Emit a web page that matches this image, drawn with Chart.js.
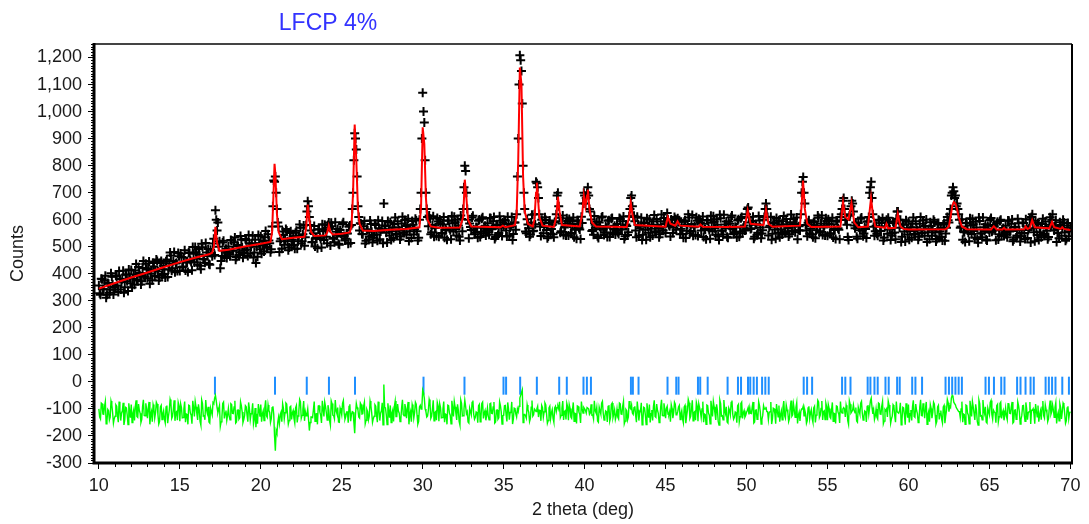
<!DOCTYPE html>
<html>
<head>
<meta charset="utf-8">
<script src="https://cdn.jsdelivr.net/npm/chart.js@4.4.1/dist/chart.umd.min.js"></script>
<style>
  html, body { margin: 0; padding: 0; background: #fff; }
  #wrap { width: 1089px; height: 524px; position: relative; }
</style>
</head>
<body>
<div id="wrap"><canvas id="rietveldChart"></canvas></div>
<script>
// Scan: 2 theta from 10 to 70 deg, read at 0.1 steps plus the half steps between
const scanStart = 10;
const scanStep = 0.1;
const halfStart = 10.05;

// Observed counts at 10.0, 10.1, ... one row per degree
const obsCounts = [
  357,322,380,343,393,322,363,342,389,323, // 10
  351,390,333,381,370,411,350,396,336,387, // 11
  414,382,359,436,375,403,360,421,390,437, // 12
  383,445,400,376,427,413,447,375,440,395, // 13
  430,386,453,416,479,411,447,406,441,477, // 14
  410,462,427,487,443,407,477,444,499,442, // 15
  480,433,471,417,498,455,514,466,436,489, // 16
  465,530,635,560,500,420,466,522,483,458, // 17
  501,465,523,485,534,462,502,480,526,459, // 18
  486,524,466,513,501,541,479,440,463,513, // 19
  539,506,482,558,496,523,480,575,745,760, // 20
  640,575,520,493,543,527,560,487,551,505, // 21
  539,493,559,520,582,512,546,504,580,668, // 22
  610,560,518,577,532,494,564,529,583,525, // 23
  562,513,590,505,576,532,591,541,511,562, // 24
  538,591,523,550,511,579,580,700,920,860, // 25
  650,560,585,546,595,522,561,538,584,516, // 26
  543,580,522,568,556,595,660,577,516,565, // 27
  591,557,532,608,545,571,527,586,553,599, // 28
  544,604,557,532,581,565,597,523,600,700, // 29
  1070,960,700,610,616,546,580,537,571,606, // 30
  537,587,551,610,564,526,596,561,614,556, // 31
  591,542,579,523,603,640,800,700,600,586, // 32
  562,615,546,573,533,601,555,609,569,542, // 33
  587,544,605,567,610,536,580,551,596,540, // 34
  575,597,538,584,571,610,547,590,620,900, // 35
  1208,1150,800,640,550,582,537,590,557,620, // 36
  740,720,620,540,589,573,599,531,588,548, // 37
  581,535,594,690,650,552,586,543,577,605, // 38
  542,586,549,608,568,530,593,564,611,660, // 39
  690,680,720,640,601,562,614,570,539,590, // 40
  565,612,543,576,536,598,552,606,566,545, // 41
  584,547,603,564,612,539,577,554,640,690, // 42
  610,594,535,581,568,607,544,588,526,575, // 43
  601,567,542,617,554,580,535,594,561,606, // 44
  551,625,580,538,587,571,603,600,592,546, // 45
  579,533,598,559,620,550,584,541,575,609, // 46
  540,600,560,612,566,528,597,562,615,557, // 47
  593,544,581,525,605,560,618,568,537,592, // 48
  568,616,547,574,534,602,556,610,570,560, // 49
  620,645,590,568,611,537,581,552,597,531, // 50
  561,610,660,610,572,611,548,586,530,579, // 51
  598,564,545,614,551,583,538,591,558,603, // 52
  554,608,561,560,700,758,660,560,589,549, // 53
  581,535,594,561,616,552,586,543,577,605, // 54
  541,585,548,607,567,529,592,563,610,640, // 55
  680,600,581,525,620,670,630,568,537,588, // 56
  561,608,539,572,532,594,700,740,620,541, // 57
  578,541,597,558,606,533,590,548,593,525, // 58
  550,587,528,630,600,600,537,581,519,568, // 59
  592,558,533,608,545,571,526,585,552,597, // 60
  541,601,554,528,577,561,593,519,582,536, // 61
  569,523,588,549,610,590,640,700,705,690, // 62
  660,620,570,602,556,518,587,552,605,547, // 63
  583,534,571,515,595,550,608,558,527,578, // 64
  553,606,560,575,524,592,546,600,560,540, // 65
  578,535,596,558,601,527,571,542,587,519, // 66
  551,588,529,575,562,601,610,590,520,569, // 67
  588,554,535,604,541,573,528,581,575,620, // 68
  560,598,551,531,580,570,590,522,579,539, // 69
  570                                       // 70
];

// Observed counts at 10.05, 10.15, ... 69.95
const obsHalfCounts = [
  328,382,343,374,311,366,330,402,361,341, // 10
  394,357,410,342,380,330,397,372,416,365, // 11
  349,397,412,377,425,393,372,447,390,416, // 12
  420,363,413,440,392,453,408,386,447,417, // 13
  399,446,388,438,468,420,481,438,410,465, // 14
  475,425,460,412,442,479,451,413,474,499, // 15
  456,492,430,511,453,441,479,492,433,477, // 16
  512,469,600,590,520,447,516,463,493,478, // 17
  472,525,486,516,452,506,469,540,498,477, // 18
  529,491,543,474,511,460,526,500,543,491, // 19
  474,521,535,499,546,513,491,650,740,700, // 20
  590,481,530,556,507,566,520,497,557,526, // 21
  507,552,493,541,570,520,579,535,630,650, // 22
  580,517,550,501,530,565,537,497,557,581, // 23
  537,580,570,589,530,517,555,566,507,549, // 24
  584,540,530,549,574,514,640,820,900,760, // 25
  610,587,547,576,512,565,527,597,555,533, // 26
  585,546,598,528,565,513,579,552,595,542, // 27
  525,571,584,548,594,560,538,611,552,577, // 28
  580,521,570,595,545,604,557,533,640,900, // 29
  1000,820,640,576,604,554,613,569,540,593, // 30
  601,549,582,533,561,597,568,528,587,611, // 31
  566,600,537,616,557,720,780,640,531,573, // 32
  608,564,553,570,596,536,604,549,578,561, // 33
  554,606,565,594,529,582,543,613,570,590, // 34
  599,560,611,541,577,525,590,563,760,1100, // 35
  1190,1030,700,556,602,568,545,618,559,583, // 36
  735,680,575,600,550,609,562,538,597,566, // 37
  546,591,620,700,607,557,616,571,542,595, // 38
  603,551,584,535,563,598,569,529,588,700, // 39
  660,700,690,630,558,544,581,592,532,574, // 40
  608,564,553,570,596,536,604,549,578,561, // 41
  554,606,565,594,529,582,543,613,680,650, // 42
  615,560,611,541,577,525,590,563,605,552, // 43
  535,581,594,557,603,569,546,619,560,584, // 44
  587,600,576,601,551,610,563,605,598,567, // 45
  547,592,532,580,608,558,617,572,543,596, // 46
  604,590,585,536,564,599,570,530,589,613, // 47
  568,602,539,618,559,545,582,593,533,585, // 48
  609,565,554,571,597,537,605,550,579,562, // 49
  640,610,566,595,530,583,544,614,571,549, // 50
  600,640,640,542,578,526,591,564,606,553, // 51
  535,581,594,557,603,569,546,619,560,584, // 52
  587,528,576,620,740,700,580,539,598,567, // 53
  546,591,531,579,607,557,616,571,542,595, // 54
  602,550,583,534,562,597,568,528,620,670, // 55
  640,599,536,615,650,660,579,590,530,572, // 56
  604,560,549,566,592,610,720,680,574,557, // 57
  548,600,559,588,523,576,600,607,564,542, // 58
  592,553,604,630,570,518,583,556,598,545, // 59
  526,572,585,548,594,560,537,610,551,575, // 60
  577,518,566,591,541,600,553,529,588,557, // 61
  537,582,522,570,598,620,690,720,680,650, // 62
  640,600,575,526,554,589,560,520,579,603, // 63
  558,592,529,608,549,535,572,583,523,565, // 64
  599,555,580,561,587,527,595,540,569,552, // 65
  545,597,556,585,520,573,534,604,561,539, // 66
  590,551,602,532,568,516,620,554,596,543, // 67
  525,571,584,547,593,559,536,609,600,574, // 68
  577,518,566,591,541,600,553,529,588,557  // 69
];

// Difference curve (obs - calc, shifted down) at 10.0, 10.1, ...
const diffCounts = [
  -100,-137,-81,-120,-72,-145,-107,-130,-85,-153, // 10
  -127,-90,-149,-103,-116,-77,-140,-96,-158,-109, // 11
  -84,-118,-143,-68,-131,-105,-150,-91,-124,-79,  // 12
  -134,-74,-121,-147,-98,-114,-82,-156,-93,-139,  // 13
  -106,-152,-87,-126,-65,-135,-101,-144,-110,-76, // 14
  -145,-95,-132,-73,-119,-157,-88,-123,-70,-128,  // 15
  -92,-141,-104,-160,-80,-125,-67,-117,-148,-97,  // 16
  -122,-80,-50,-95,-102,-165,-129,-75,-115,-142,  // 17
  -98,-140,-84,-117,-70,-148,-104,-133,-88,-150,  // 18
  -125,-92,-147,-100,-118,-79,-138,-168,-155,-106, // 19
  -84,-118,-143,-68,-131,-105,-150,-95,-120,-255, // 20
  -190,-130,-121,-147,-98,-114,-82,-156,-93,-139, // 21
  -106,-152,-87,-126,-65,-135,-101,-144,-125,-100, // 22
  -180,-130,-132,-73,-119,-157,-88,-123,-70,-128, // 23
  -92,-141,-104,-160,-80,-125,-67,-117,-148,-97,  // 24
  -122,-69,-138,-111,-151,-83,-120,-112,-190,-80, // 25
  -103,-134,-84,-118,-75,-142,-110,-127,-88,-150, // 26
  -127,-90,-149,-103,-116,-77,-10,-96,-158,-109,  // 27
  -87,-115,-146,-71,-128,-108,-147,-94,-121,-82,  // 28
  -134,-74,-121,-147,-98,-114,-82,-156,-93,-100,  // 29
  -30,-60,-110,-126,-65,-135,-101,-144,-110,-76,  // 30
  -145,-95,-132,-73,-119,-157,-88,-123,-70,-128,  // 31
  -92,-141,-104,-160,-80,-125,-67,-117,-148,-97,  // 32
  -122,-69,-138,-111,-151,-83,-129,-75,-115,-142, // 33
  -97,-140,-79,-117,-74,-148,-104,-133,-88,-156,  // 34
  -124,-87,-146,-100,-113,-74,-137,-99,-130,-110, // 35
  -60,-40,-150,-120,-134,-102,-147,-94,-127,-100, // 36
  -110,-90,-105,-144,-95,-111,-85,-153,-96,-136,  // 37
  -103,-149,-90,-95,-100,-132,-98,-141,-107,-79,  // 38
  -142,-98,-135,-76,-116,-154,-91,-120,-73,-115,  // 39
  -100,-115,-95,-120,-83,-122,-70,-114,-145,-94,  // 40
  -119,-72,-141,-108,-148,-86,-132,-78,-118,-139, // 41
  -100,-137,-81,-120,-72,-145,-107,-130,-95,-85,  // 42
  -120,-90,-149,-103,-116,-77,-140,-96,-158,-109, // 43
  -84,-118,-143,-68,-131,-105,-150,-91,-124,-79,  // 44
  -134,-90,-121,-147,-98,-114,-82,-120,-93,-139,  // 45
  -106,-152,-87,-126,-65,-135,-101,-144,-110,-76, // 46
  -145,-95,-132,-73,-119,-157,-88,-123,-70,-128,  // 47
  -92,-141,-104,-160,-80,-125,-67,-117,-148,-97,  // 48
  -122,-69,-138,-111,-151,-83,-129,-75,-115,-130, // 49
  -112,-95,-95,-117,-74,-148,-104,-133,-88,-156,  // 50
  -124,-100,-92,-110,-113,-74,-137,-99,-155,-106, // 51
  -87,-121,-140,-71,-134,-102,-147,-94,-127,-82,  // 52
  -131,-77,-124,-144,-100,-90,-105,-153,-96,-136, // 53
  -103,-149,-90,-123,-68,-132,-98,-141,-107,-79,  // 54
  -142,-98,-135,-76,-116,-154,-91,-120,-73,-115,  // 55
  -95,-130,-101,-157,-83,-110,-85,-114,-145,-94,  // 56
  -119,-72,-141,-108,-148,-86,-95,-60,-118,-139,  // 57
  -100,-137,-81,-120,-72,-145,-107,-130,-85,-153, // 58
  -127,-90,-149,-110,-116,-77,-140,-96,-158,-109, // 59
  -84,-118,-143,-68,-131,-105,-150,-91,-124,-79,  // 60
  -134,-74,-121,-147,-98,-114,-82,-156,-93,-139,  // 61
  -106,-152,-87,-126,-65,-110,-95,-50,-75,-85,    // 62
  -100,-110,-132,-73,-119,-157,-88,-123,-70,-128, // 63
  -92,-141,-104,-160,-80,-125,-67,-117,-148,-97,  // 64
  -122,-69,-138,-111,-151,-83,-129,-75,-115,-142, // 65
  -97,-140,-79,-117,-74,-148,-104,-133,-88,-156,  // 66
  -124,-87,-146,-100,-113,-74,-105,-99,-155,-106, // 67
  -87,-121,-140,-71,-134,-102,-147,-94,-120,-85,  // 68
  -131,-77,-124,-144,-95,-111,-85,-153,-96,-136,  // 69
  -110                                            // 70
];

// Difference curve at the half steps 10.05 ... 69.95
const diffHalfCounts = [
  -130,-78,-119,-90,-155,-102,-141,-71,-114,-136, // 10
  -85,-124,-73,-143,-107,-159,-94,-121,-79,-132,  // 11
  -150,-104,-91,-128,-82,-116,-139,-66,-125,-101, // 12
  -98,-157,-109,-84,-134,-75,-122,-146,-87,-118,  // 13
  -138,-93,-153,-105,-77,-127,-68,-113,-142,-89,  // 14
  -81,-133,-100,-149,-121,-86,-115,-155,-96,-72,  // 15
  -117,-83,-146,-67,-126,-140,-103,-92,-152,-110, // 16
  -76,-60,-70,-114,-88,-148,-80,-135,-106,-123,   // 17
  -127,-81,-116,-93,-152,-105,-138,-74,-111,-139, // 18
  -88,-121,-76,-140,-110,-156,-97,-118,-82,-129,  // 19
  -147,-107,-94,-125,-85,-113,-136,-90,-200,-180, // 20
  -150,-154,-112,-81,-137,-78,-119,-143,-90,-115, // 21
  -135,-96,-150,-108,-74,-124,-71,-110,-120,-140, // 22
  -150,-130,-103,-146,-118,-89,-112,-152,-99,-75, // 23
  -114,-86,-143,-70,-123,-137,-106,-95,-149,-107, // 24
  -79,-117,-128,-111,-91,-145,-110,-150,-120,-95, // 25
  -130,-78,-119,-90,-155,-102,-141,-71,-114,-136, // 26
  -85,-124,-73,-143,-107,-159,-94,-121,-79,-132,  // 27
  -150,-104,-91,-128,-82,-116,-139,-66,-125,-101, // 28
  -98,-157,-109,-84,-134,-75,-122,-146,-87,-90,   // 29
  -40,-100,-130,-105,-77,-127,-68,-113,-142,-89,  // 30
  -81,-133,-100,-149,-121,-86,-115,-155,-96,-72,  // 31
  -117,-83,-146,-67,-126,-100,-90,-110,-152,-110, // 32
  -76,-120,-131,-114,-88,-148,-80,-135,-106,-123, // 33
  -127,-81,-116,-93,-152,-105,-138,-74,-111,-125, // 34
  -88,-121,-76,-140,-110,-156,-97,-118,-100,-90,  // 35
  -50,-30,-120,-125,-85,-113,-136,-69,-122,-104,  // 36
  -100,-130,-106,-87,-131,-78,-119,-143,-90,-115, // 37
  -135,-96,-110,-90,-74,-124,-71,-110,-139,-92,   // 38
  -84,-130,-103,-146,-118,-89,-112,-152,-99,-95,  // 39
  -105,-95,-100,-115,-123,-137,-106,-95,-149,-107, // 40
  -79,-117,-128,-111,-91,-145,-83,-132,-103,-126, // 41
  -130,-78,-119,-90,-155,-102,-141,-71,-100,-115, // 42
  -95,-124,-73,-143,-107,-159,-94,-121,-79,-132,  // 43
  -150,-104,-91,-128,-82,-116,-139,-66,-125,-101, // 44
  -98,-120,-109,-84,-134,-75,-122,-110,-87,-118,  // 45
  -138,-93,-153,-105,-77,-127,-68,-113,-142,-89,  // 46
  -81,-110,-100,-149,-121,-86,-115,-155,-96,-72,  // 47
  -117,-83,-146,-67,-126,-140,-103,-92,-152,-105, // 48
  -76,-120,-131,-114,-88,-148,-80,-135,-106,-123, // 49
  -105,-120,-116,-93,-152,-105,-138,-74,-111,-139, // 50
  -88,-100,-110,-140,-110,-156,-97,-118,-82,-129, // 51
  -147,-107,-94,-125,-85,-113,-136,-69,-122,-104, // 52
  -95,-154,-112,-110,-100,-125,-119,-143,-90,-115, // 53
  -135,-96,-150,-108,-74,-124,-71,-110,-139,-92,  // 54
  -84,-130,-103,-146,-118,-89,-112,-152,-110,-100, // 55
  -100,-86,-143,-70,-115,-105,-106,-95,-149,-107, // 56
  -79,-117,-128,-111,-91,-120,-70,-95,-103,-126,  // 57
  -130,-78,-119,-90,-155,-102,-100,-71,-114,-136, // 58
  -85,-124,-73,-110,-107,-159,-94,-121,-79,-132,  // 59
  -150,-104,-91,-128,-82,-116,-139,-66,-125,-101, // 60
  -98,-157,-109,-84,-134,-75,-122,-146,-87,-118,  // 61
  -138,-93,-153,-105,-77,-90,-60,-55,-80,-95,     // 62
  -100,-110,-100,-149,-121,-86,-115,-155,-96,-72, // 63
  -117,-83,-146,-67,-126,-140,-103,-92,-152,-110, // 64
  -76,-120,-105,-114,-88,-148,-80,-135,-106,-123, // 65
  -127,-81,-116,-93,-152,-105,-138,-74,-111,-139, // 66
  -88,-121,-76,-140,-110,-156,-105,-118,-82,-129, // 67
  -147,-107,-94,-125,-85,-113,-136,-69,-110,-104, // 68
  -95,-154,-112,-81,-137,-78,-119,-143,-90,-115   // 69
];

// Calculated profile (red)
const calcTheta = [
  10, 11, 12, 13, 14, 15, 16, 16.8,
  17.0, 17.1, 17.2, 17.3, 17.45,
  18, 19, 20, 20.6, 20.7, 20.8, 20.85, 20.9, 21.0, 21.1, 21.3,
  22, 22.7, 22.8, 22.9, 23.0, 23.1, 23.3,
  24.0, 24.1, 24.2, 24.3, 24.45,
  25.0, 25.5, 25.6, 25.7, 25.8, 25.9, 26.0, 26.1, 26.3,
  27, 28, 29, 29.8, 29.9, 30.0, 30.1, 30.2, 30.3, 30.5,
  31, 32.3, 32.5, 32.6, 32.7, 32.8, 33.0,
  34.8, 34.95, 35.1,
  35.7, 35.8, 35.9, 36.0, 36.1, 36.2, 36.3, 36.5,
  36.8, 36.9, 37.0, 37.05, 37.1, 37.2, 37.4,
  38.1, 38.25, 38.35, 38.45, 38.6,
  39.7, 39.85, 39.95, 40.05, 40.15, 40.2, 40.3, 40.45, 40.7,
  42.6, 42.75, 42.85, 42.95, 43.1,
  45.0, 45.14, 45.3, 45.6, 45.74, 45.9,
  47.05, 47.15, 47.3,
  48.9, 48.96, 49.05,
  49.9, 50.07, 50.25, 51.05, 51.2, 51.35, 51.6,
  53.3, 53.4, 53.49, 53.6, 53.75, 54.0,
  55.8, 55.96, 56.1, 56.3, 56.48, 56.65, 56.9,
  57.5, 57.6, 57.69, 57.8, 57.95,
  58.55, 58.64, 58.75,
  59.2, 59.34, 59.5, 59.7,
  60, 62.3, 62.5, 62.6, 62.7, 62.8, 62.9, 63.0, 63.1, 63.3, 63.6,
  65.1, 65.27, 65.45,
  65.8, 65.9, 66.0,
  67.15, 67.23, 67.35, 67.5, 67.64, 67.8,
  68.7, 68.87, 69.0, 69.4, 69.5, 69.6, 70.0
];
const calcCounts = [
  345, 366, 386, 405, 424, 443, 460, 472,
  478, 500, 574, 515, 485,
  489, 501, 511, 518, 555, 720, 807, 770, 620, 555, 528,
  533, 537, 570, 656, 600, 555, 540,
  542, 552, 578, 555, 545,
  548, 553, 575, 700, 952, 820, 640, 585, 560,
  558, 563, 566, 572, 650, 942, 880, 680, 600, 575,
  570, 571, 610, 748, 680, 600, 575,
  572, 578, 572,
  580, 620, 820, 1163, 1100, 760, 630, 585,
  575, 600, 700, 737, 700, 610, 578,
  573, 610, 685, 630, 580,
  575, 620, 690, 650, 690, 711, 640, 590, 575,
  573, 610, 663, 620, 580,
  574, 610, 585, 578, 594, 578,
  574, 582, 574,
  573, 576, 573,
  575, 635, 585, 580, 638, 585, 574,
  578, 650, 745, 640, 585, 573,
  575, 665, 610, 600, 662, 590, 572,
  575, 630, 680, 620, 575,
  570, 585, 568,
  570, 622, 575, 566,
  564, 565, 575, 610, 650, 665, 660, 640, 610, 575, 565,
  564, 576, 564,
  564, 570, 564,
  565, 575, 566, 570, 598, 572,
  568, 592, 572, 566, 572, 566, 562
];

// Bragg reflection positions (blue ticks)
const braggTheta = [
  17.17, 20.88, 22.84, 24.21, 25.82, 30.05, 32.58, 34.99, 35.15, 36.02,
  37.05, 38.43, 38.9, 39.93, 40.14, 40.39, 42.86, 42.98, 43.33, 45.12,
  45.66, 45.8, 47.0, 47.14, 47.6, 48.83, 49.47, 49.66, 50.09, 50.23,
  50.44, 50.64, 50.96, 51.16, 51.37, 53.53, 53.74, 54.05, 55.9, 56.1,
  56.42, 57.48, 57.65, 57.9, 58.1, 58.58, 58.78, 59.3, 59.46, 60.23,
  60.43, 60.84, 62.29, 62.5, 62.7, 62.9, 63.1, 63.3, 64.76, 64.97,
  65.28, 65.73, 65.93, 66.71, 66.92, 67.23, 67.54, 67.74, 68.47, 68.67,
  68.87, 69.08, 69.5, 69.91
];
const braggLevel = -14;

const xTicks = [10, 15, 20, 25, 30, 35, 40, 45, 50, 55, 60, 65, 70];
const yTicks = [-300, -200, -100, 0, 100, 200, 300, 400, 500, 600, 700, 800, 900, 1000, 1100, 1200];

const round2 = (v) => Math.round(v * 100) / 100;
const onGrid = (start, arr) => arr.map((y, i) => ({ x: round2(start + i * scanStep), y }));

const obsPoints = onGrid(scanStart, obsCounts).concat(onGrid(halfStart, obsHalfCounts));
const diffPoints = onGrid(scanStart, diffCounts)
  .concat(onGrid(halfStart, diffHalfCounts))
  .sort((a, b) => a.x - b.x);
const calcPoints = calcTheta.map((x, i) => ({ x, y: calcCounts[i] }));
const braggPoints = braggTheta.map((x) => ({ x, y: braggLevel }));

const labelFont = { family: '"Liberation Sans", Arial, sans-serif', size: 18 };

// Frame, minor ticks and texts
const decorations = {
  id: "decorations",
  afterDraw(chart) {
    const { ctx, chartArea: a, scales } = chart;
    ctx.save();

    // minor ticks
    ctx.strokeStyle = "#000";
    ctx.lineWidth = 1;
    ctx.beginPath();
    for (let v = -300; v <= 1250; v += 10) {
      if (v % 100 === 0) continue;
      const y = Math.round(scales.y.getPixelForValue(v)) + 0.5;
      ctx.moveTo(a.left - 3, y);
      ctx.lineTo(a.left, y);
    }
    for (let d = 10; d <= 70; d += 1) {
      if (d % 5 === 0) continue;
      const x = Math.round(scales.x.getPixelForValue(d)) + 0.5;
      ctx.moveTo(x, a.bottom);
      ctx.lineTo(x, a.bottom + 4);
    }
    ctx.stroke();

    // frame
    ctx.lineWidth = 2;
    ctx.strokeStyle = "#444";
    ctx.beginPath();
    ctx.moveTo(a.left, a.top);
    ctx.lineTo(a.right, a.top);
    ctx.stroke();
    ctx.strokeStyle = "#000";
    ctx.beginPath();
    ctx.moveTo(a.right, a.top);
    ctx.lineTo(a.right, a.bottom);
    ctx.stroke();
    ctx.lineWidth = 3;
    ctx.beginPath();
    ctx.moveTo(a.left, a.top - 1);
    ctx.lineTo(a.left, a.bottom);
    ctx.lineTo(a.right + 1, a.bottom);
    ctx.stroke();

    // title
    ctx.fillStyle = "#3333ff";
    ctx.font = '23px "Liberation Sans", Arial, sans-serif';
    ctx.textAlign = "center";
    ctx.textBaseline = "alphabetic";
    ctx.fillText("LFCP 4%", 328, 30);

    // axis titles
    ctx.fillStyle = "#1a1a1a";
    ctx.font = '18px "Liberation Sans", Arial, sans-serif';
    ctx.textBaseline = "middle";
    ctx.fillText("2 theta (deg)", (a.left + a.right) / 2, 510);
    ctx.translate(18, (a.top + a.bottom) / 2);
    ctx.rotate(-Math.PI / 2);
    ctx.fillText("Counts", 0, 0);
    ctx.restore();
  },
};

new Chart(document.getElementById("rietveldChart"), {
  type: "scatter",
  data: {
    datasets: [
      {
        label: "Calc",
        type: "line",
        data: calcPoints,
        borderColor: "#ff0000",
        borderWidth: 2,
        pointRadius: 0,
        tension: 0,
        order: 0,
      },
      {
        label: "Obs",
        data: obsPoints,
        pointStyle: "cross",
        pointRadius: 4.5,
        borderColor: "#000",
        borderWidth: 2,
        order: 1,
      },
      {
        label: "Diff",
        type: "line",
        data: diffPoints,
        borderColor: "#00ff00",
        borderWidth: 1.4,
        pointRadius: 0,
        tension: 0,
        order: 2,
      },
      {
        label: "Bragg",
        data: braggPoints,
        pointStyle: "line",
        rotation: 90,
        pointRadius: 9,
        borderColor: "#1f8fff",
        borderWidth: 2,
        order: 3,
      },
    ],
  },
  options: {
    responsive: true,
    maintainAspectRatio: false,
    animation: false,
    layout: { padding: { top: 44, right: 17, left: 0, bottom: 0 } },
    plugins: {
      legend: { display: false },
      tooltip: { enabled: false },
    },
    scales: {
      x: {
        type: "linear",
        min: 9.7,
        max: 70.1,
        afterBuildTicks: (s) => { s.ticks = xTicks.map((v) => ({ value: v })); },
        afterFit: (s) => { s.height = 61; },
        ticks: { font: labelFont, color: "#1a1a1a", padding: 6, maxRotation: 0, autoSkip: false },
        grid: { drawOnChartArea: false, drawTicks: true, tickLength: 6, color: "#000" },
        border: { display: false },
      },
      y: {
        min: -300,
        max: 1250,
        afterBuildTicks: (s) => { s.ticks = yTicks.map((v) => ({ value: v })); },
        afterFit: (s) => { s.width = 94; },
        ticks: {
          font: labelFont,
          color: "#1a1a1a",
          padding: 6,
          autoSkip: false,
          callback: (v) => v.toLocaleString("en-US"),
        },
        grid: { drawOnChartArea: false, drawTicks: true, tickLength: 6, color: "#000" },
        border: { display: false },
      },
    },
  },
  plugins: [decorations],
});
</script>
</body>
</html>
